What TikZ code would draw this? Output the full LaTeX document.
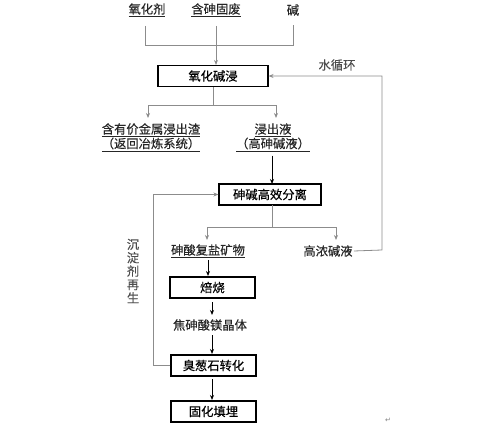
\documentclass[tikz,border=0pt]{standalone}
\usepackage{fontspec}
\newfontfamily\cjk[FakeBold=0.4]{Noto Sans CJK SC}
\newfontfamily\djv{DejaVu Sans}
\usetikzlibrary{arrows.meta}
\begin{document}
\begin{tikzpicture}[x=1pt,y=-1pt,
  font=\cjk\fontsize{12.3}{14}\selectfont,
  box/.style={draw=black,line width=1.1pt,minimum height=21pt,inner sep=0pt},
  lbl/.style={inner sep=1pt,text=black!85},
  gline/.style={draw=black!45,line width=0.8pt},
  garr/.style={gline,-{Stealth[length=5pt,width=4pt]}},
  barr/.style={draw=black,line width=1pt,-{Stealth[length=5pt,width=4pt]}}]
\useasboundingbox (0,0) rectangle (500,427);

% top inputs
\node[lbl] (t1) at (147,10) {\underline{氧化剂}};
\node[lbl] (t2) at (216,10) {\underline{含砷固废}};
\node[lbl] (t3) at (293,10) {碱};
\coordinate (j1) at (145,45);
\coordinate (j3) at (293,45);

% boxes
\node[box,minimum width=110pt] (b1) at (213,76) {氧化碱浸};
\node[box,minimum width=102pt] (b2) at (270,194.5) {砷碱高效分离};
\node[box,minimum width=85pt] (b3) at (212.5,287.5) {焙烧};
\node[box,minimum width=85pt] (b4) at (213.5,365.5) {臭葱石转化};
\node[box,minimum width=85pt] (b5) at (213.5,411.5) {固化填埋};

% intermediate labels
\node[lbl] (l1a) at (151,130) {\underline{含有价金属浸出渣}};
\node[lbl] (l1b) at (151,144.5) {\underline{（返回冶炼系统）}};
\node[lbl] (r1a) at (273,130) {\underline{浸出液}};
\node[lbl] (r1b) at (273,144.5) {\underline{（高砷碱液）}};
\node[lbl] (m1) at (208,251) {\underline{砷酸复盐矿物}};
\node[lbl] (m2) at (328,251) {高浓碱液};
\node[lbl] (m3) at (210,325) {焦砷酸镁晶体};
\node[lbl,text=black!70] (w) at (337,65) {水循环};
\node[lbl,text=black!70,align=center,font=\cjk\fontsize{12.3}{13.4}\selectfont] (regen) at (133,271) {沉\\淀\\剂\\再\\生};
\node[lbl,text=black!50,font=\djv\fontsize{7}{8}\selectfont] (pm) at (388,420) {↵};

% top merge
\draw[gline] ([yshift=-8pt]t1.south -| j1) -- (j1) -- (j3) -- ([yshift=-8pt]t3.south -| j3);
\draw[garr] ([yshift=-8pt]t2.south) -- (t2.south |- b1.north);

% split after b1
\coordinate (s1) at (213,105);
\draw[gline] (b1.south) -- (s1);
\draw[garr] (s1) -| (148,118);
\draw[garr] (s1) -| (276,118);

% leach liquor to separation
\draw[barr] ([yshift=-3pt]r1b.south -| 272,0) -- (272,184);

% split after b2
\coordinate (s2) at (272,227);
\draw[gline] (272,205) -- (s2);
\draw[garr] (s2) -| (207,240);
\draw[garr] (s2) -| (336,240);

% water cycle
\draw[garr] (m2.east) -- (382,250) -- (382,76) -- (b1.east);

% main chain
\draw[barr] (208,260) -- (208,276);
\draw[barr] (212,302) -- (212,315);
\draw[barr] (212,335) -- (212,354);
\draw[barr] (212,379) -- (212,400);

% regeneration loop
\draw[garr] (b4.west) -- (153,365.5) -- (153,194.5) -- (b2.west);
\end{tikzpicture}
\end{document}
